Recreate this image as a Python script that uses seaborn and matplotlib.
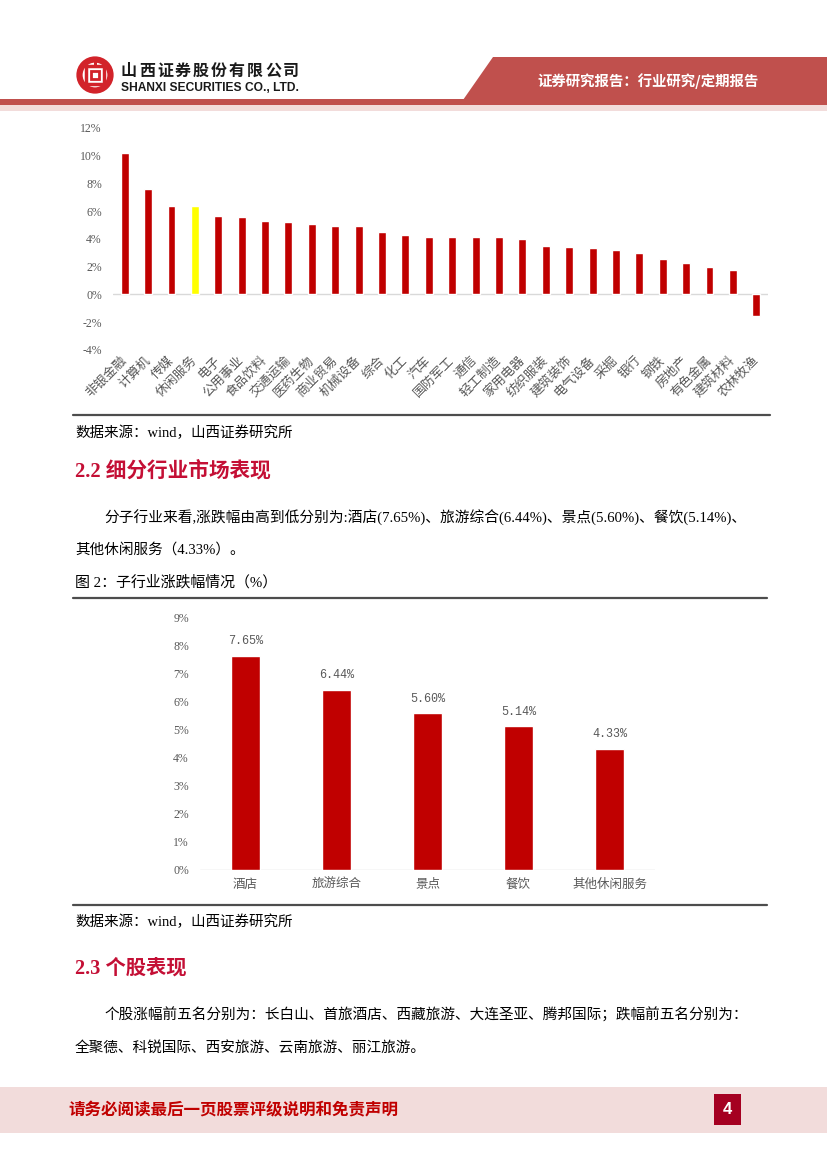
import matplotlib
matplotlib.use('Agg')
import matplotlib.pyplot as plt
from matplotlib.patches import Rectangle, Polygon, Circle
import seaborn as sns
import pandas as pd

# ---- data ----
industries = ['非银金融', '计算机', '传媒', '休闲服务', '电子', '公用事业', '食品饮料',
              '交通运输', '医药生物', '商业贸易', '机械设备', '综合', '化工', '汽车',
              '国防军工', '通信', '轻工制造', '家用电器', '纺织服装', '建筑装饰',
              '电气设备', '采掘', '银行', '钢铁', '房地产', '有色金属', '建筑材料', '农林牧渔']
industry_returns = [10.18, 7.60, 6.40, 6.36, 5.63, 5.56, 5.30, 5.23, 5.05, 4.96, 4.92,
                    4.52, 4.27, 4.14, 4.14, 4.12, 4.12, 3.98, 3.49, 3.45, 3.35, 3.18,
                    3.01, 2.58, 2.29, 1.95, 1.76, -1.54]
highlight = '休闲服务'
ticks1 = [-4, -2, 0, 2, 4, 6, 8, 10, 12]

sub_industries = ['酒店', '旅游综合', '景点', '餐饮', '其他休闲服务']
sub_returns = [7.65, 6.44, 5.60, 5.14, 4.33]
ticks2 = [0, 1, 2, 3, 4, 5, 6, 7, 8, 9]

W, H = 827, 1169
BAR_RED = '#C00000'
BAND = '#C0504D'
PINK = '#F2DCDB'
HEAD_RED = '#C40F35'
GRAY = '#595959'
CJK = 'Noto Sans CJK SC'
MIXED = ['Liberation Serif', CJK]

sns.set_style('white')
plt.rcParams['font.family'] = [CJK, 'DejaVu Sans']

fig = plt.figure(figsize=(W / 100, H / 100), dpi=100)
renderer = fig.canvas.get_renderer()

bg = fig.add_axes([0, 0, 1, 1])
bg.set_xlim(0, W)
bg.set_ylim(H, 0)
bg.axis('off')


def px_axes(x0, y0, x1, y1):
    return fig.add_axes([x0 / W, 1 - y1 / H, (x1 - x0) / W, (y1 - y0) / H])


def fit_text(x, y, s, width, **kw):
    t = bg.text(x, y, s, **kw)
    bb = t.get_window_extent(renderer=renderer)
    t.set_fontsize(t.get_fontsize() * width / bb.width)
    return t


# ---- header ----
bg.add_patch(Polygon([(463, 100), (493, 57), (W, 57), (W, 100)], closed=True,
                     color=BAND, lw=0))
bg.add_patch(Rectangle((0, 99), W, 6, color=BAND, lw=0))
bg.add_patch(Rectangle((0, 105), W, 6, color=PINK, lw=0))
fit_text(648, 81, '证券研究报告：行业研究/定期报告', 222, color='white',
         fontweight='bold', fontsize=10, ha='center', va='center')

# logo
logo_red = '#D2232A'
bg.add_patch(Circle((95, 75), 15.5, fill=False, ec=logo_red, lw=4.5))
bg.add_patch(Rectangle((86, 66), 18, 18, fill=False, ec=logo_red, lw=2.5))
bg.add_patch(Rectangle((91, 71), 8, 8, fill=False, ec=logo_red, lw=2))
bg.add_patch(Rectangle((93.5, 58), 3, 8, color=logo_red, lw=0))

name = '山西证券股份有限公司'
for i, ch in enumerate(name):
    bg.text(129 + i * 18, 71, ch, fontsize=11.5, fontweight='bold', color='#1A1A1A',
            ha='center', va='center')
fit_text(121, 88, 'SHANXI SECURITIES CO., LTD.', 179, family='Liberation Sans',
         fontweight='bold', fontsize=9, color='#1A1A1A', va='center')

# ---- chart 1: industry returns ----
df1 = pd.DataFrame({'industry': industries, 'ret': industry_returns})
colors1 = ['#FFFF00' if n == highlight else BAR_RED for n in industries]
ax1 = px_axes(113, 128, 768, 350)
sns.barplot(data=df1, x='industry', y='ret', hue='industry', palette=colors1,
            saturation=1, width=0.34, errorbar=None, legend=False, ax=ax1)
ax1.axhline(0, color='#D9D9D9', lw=1, zorder=0)
ax1.set_ylim(-4, 12)
ax1.set_xlim(-0.5, len(industries) - 0.5)
ax1.set_yticks(ticks1)
ax1.set_yticklabels([f'{t}%' for t in ticks1], family='Liberation Serif',
                    fontsize=8.5, color=GRAY)
ax1.set_xticks(range(len(industries)))
ax1.set_xticklabels(industries, rotation=45, ha='right', va='center',
                    rotation_mode='anchor', fontsize=9.3, color=GRAY)
ax1.tick_params(length=0, axis='y', pad=8)
ax1.tick_params(length=0, axis='x', pad=6)
ax1.set_xlabel('')
ax1.set_ylabel('')
sns.despine(ax=ax1, left=True, bottom=True)
ax1.patch.set_alpha(0)

bg.plot([73, 770], [415, 415], color='#4D4D4D', lw=1.6)
fit_text(75, 433, '数据来源：wind，山西证券研究所', 218, family=MIXED, fontsize=10,
         color='black', va='center')

# ---- section 2.2 ----
fit_text(75, 471, '2.2 细分行业市场表现', 197, family=MIXED, fontweight='bold',
         fontsize=14, color=HEAD_RED, va='center')
# compressed (half-width) punctuation so the justified line keeps the body size
fit_text(104, 518, '分子行业来看,涨跌幅由高到低分别为:酒店(7.65%)、旅游综合(6.44%)、'
         '景点(5.60%)、餐饮(5.14%)、', 642, family=MIXED, fontsize=10.5,
         color='black', va='center')
bg.text(75, 550, '其他休闲服务（4.33%）。', family=MIXED, fontsize=10.5, color='black',
        va='center')
fit_text(75, 582, '图 2：子行业涨跌幅情况（%）', 203, family=MIXED, fontsize=10,
         color='black', va='center')
bg.plot([73, 767], [598, 598], color='#4D4D4D', lw=1.6)

# ---- chart 2: sub-industry returns ----
df2 = pd.DataFrame({'sub': sub_industries, 'ret': sub_returns})
ax2 = px_axes(200, 618, 655, 870)
sns.barplot(data=df2, x='sub', y='ret', color=BAR_RED, saturation=1, width=0.32,
            errorbar=None, ax=ax2)
ax2.axhline(0, color='#D9D9D9', lw=1, zorder=0)
ax2.set_ylim(0, 9)
ax2.set_yticks(ticks2)
ax2.set_yticklabels([f'{t}%' for t in ticks2], family='Liberation Serif',
                    fontsize=8.5, color=GRAY)
ax2.set_xticks(range(len(sub_industries)))
ax2.set_xticklabels(sub_industries, fontsize=9, color=GRAY)
ax2.tick_params(length=0, axis='y', pad=8)
ax2.tick_params(length=0, axis='x', pad=6)
ax2.bar_label(ax2.containers[0], labels=[f'{v:.2f}%' for v in sub_returns],
              padding=6, family='Liberation Mono', fontsize=8.5, color=GRAY)
ax2.set_xlabel('')
ax2.set_ylabel('')
sns.despine(ax=ax2, left=True, bottom=True)
ax2.patch.set_alpha(0)

bg.plot([73, 767], [905, 905], color='#4D4D4D', lw=1.6)
fit_text(75, 922, '数据来源：wind，山西证券研究所', 218, family=MIXED, fontsize=10,
         color='black', va='center')

# ---- section 2.3 ----
fit_text(75, 969, '2.3 个股表现', 112, family=MIXED, fontweight='bold',
         fontsize=14, color=HEAD_RED, va='center')
p2 = fit_text(104, 1015, '个股涨幅前五名分别为：长白山、首旅酒店、西藏旅游、大连圣亚、'
              '腾邦国际；跌幅前五名分别为：', 642, family=MIXED, fontsize=10,
              color='black', va='center')
bg.text(75, 1048, '全聚德、科锐国际、西安旅游、云南旅游、丽江旅游。', family=MIXED,
        fontsize=p2.get_fontsize(), color='black', va='center')

# ---- footer ----
bg.add_patch(Rectangle((0, 1087), W, 46, color=PINK, lw=0))
fit_text(68, 1110, '请务必阅读最后一页股票评级说明和免责声明', 330, fontweight='bold',
         fontsize=12, color=BAR_RED, va='center')
bg.add_patch(Rectangle((714, 1094), 27, 31, color='#A50021', lw=0))
bg.text(727.5, 1110, '4', color='white', fontweight='bold', fontsize=12,
        family='Liberation Sans', ha='center', va='center')

fig.savefig('out.png', dpi=100)
